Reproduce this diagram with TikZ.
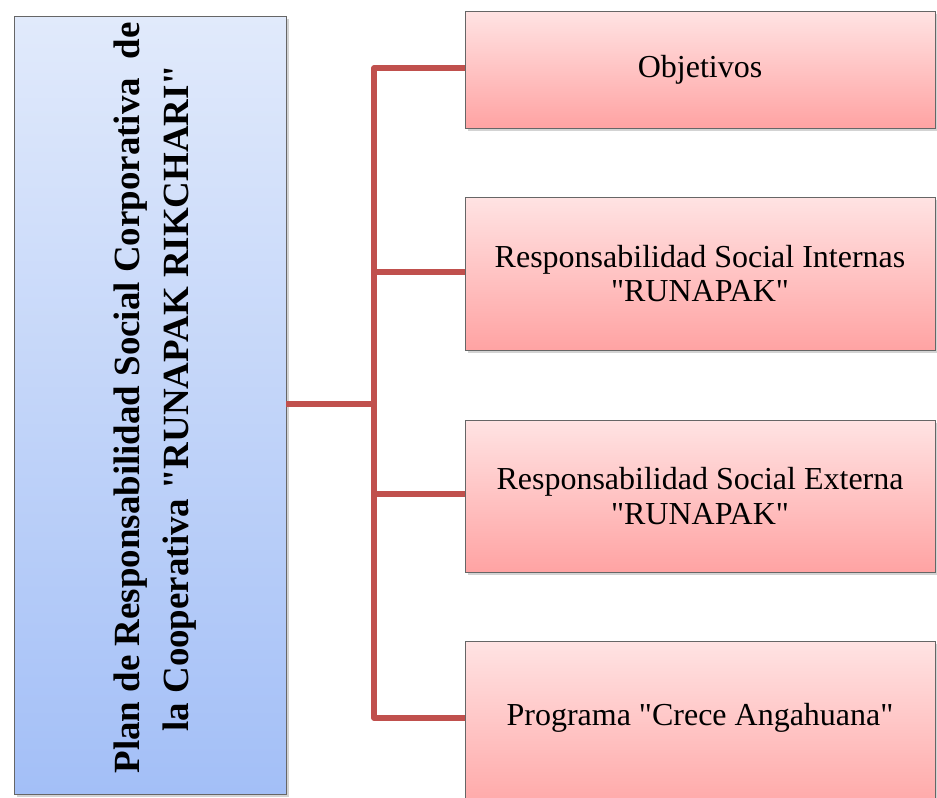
\documentclass[tikz,border=0pt]{standalone}
\usepackage{fontspec}
\setmainfont{Liberation Serif}[Ligatures=TeXOff]
\usetikzlibrary{shadows}
\definecolor{linkred}{HTML}{C0504D}
\definecolor{bluetop}{HTML}{E1EAFB}
\definecolor{bluebot}{HTML}{A3BFF7}
\definecolor{redtop}{HTML}{FFE3E3}
\definecolor{redbot}{HTML}{FFA3A3}
\tikzset{
  planbox/.style={draw=gray!80!black, line width=0.6pt, top color=bluetop, bottom color=bluebot,
    minimum width=272*0.75pt, minimum height=778*0.75pt, inner sep=0pt,
    drop shadow={shadow xshift=2pt, shadow yshift=-2pt, opacity=0.35}},
  itembox/.style={draw=gray!80!black, line width=0.6pt, top color=redtop, bottom color=redbot,
    minimum width=470*0.75pt, inner sep=0pt, align=center, font=\fontsize{24}{26}\selectfont,
    drop shadow={shadow xshift=2pt, shadow yshift=-2pt, opacity=0.35}},
  link/.style={linkred, line width=3.8pt}
}
\begin{document}
\begin{tikzpicture}[x=0.75pt,y=-0.75pt]
\useasboundingbox (0,0) rectangle (937,797);
\clip (0,0) rectangle (937,797);
% left box
\node[planbox] (plan) at (150,405) {};
\node[rotate=90, align=center, font=\bfseries\fontsize{27.7}{37}\selectfont] (plantext) at (155,398)
  {Plan de Responsabilidad Social Corporativa\ \ de\\la Cooperativa "RUNAPAK RIKCHARI"};
% right boxes
\node[itembox, minimum height=117*0.75pt] (obj) at (700,69.5) {Objetivos};
\node[itembox, minimum height=153*0.75pt] (rsi) at (700,273.5) {Responsabilidad Social Internas\\"RUNAPAK"};
\node[itembox, minimum height=152*0.75pt] (rse) at (700,496) {Responsabilidad Social Externa\\"RUNAPAK"};
\node[itembox, minimum height=180*0.75pt] (crece) at (700,731) {};
\node[font=\fontsize{24}{26}\selectfont] (crecetext) at (700,718) {Programa "Crece Angahuana"};
% connectors
\coordinate (bus) at (374,404);
\coordinate (busend) at (374,718);
\draw[link] (plan.east |- bus) -- (bus);
\draw[link, line join=round] (obj.west |- 0,68) -| (busend) -- (crece.west |- busend);
\draw[link] (bus |- 0,272) -- (rsi.west |- 0,272);
\draw[link] (bus |- 0,494) -- (rse.west |- 0,494);
\end{tikzpicture}
\end{document}
